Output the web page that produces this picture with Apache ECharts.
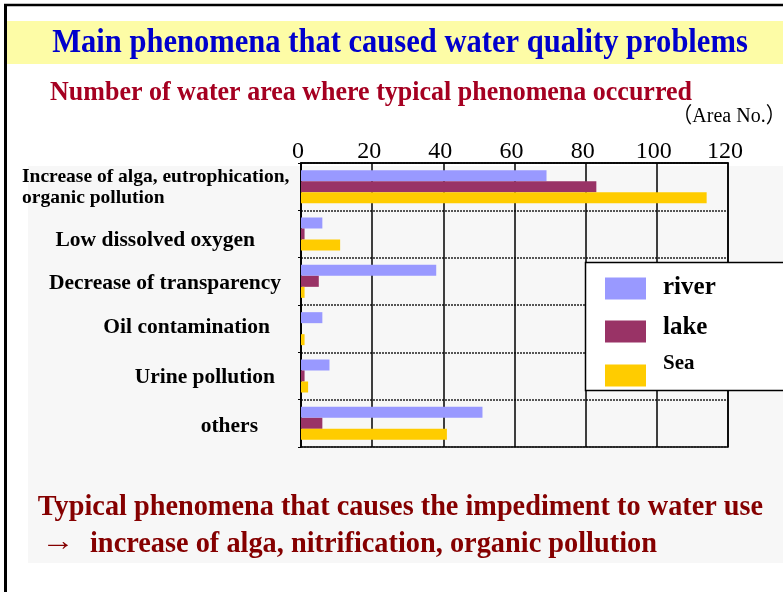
<!DOCTYPE html>
<html>
<head>
<meta charset="utf-8">
<script src="https://cdn.jsdelivr.net/npm/echarts@6/dist/echarts.min.js"></script>
<style>
  html, body { margin: 0; padding: 0; background: #fff; }
  #chart { width: 783px; height: 592px; }
</style>
</head>
<body>
<div id="chart"></div>
<script>
// categories (top to bottom)
var categories = [
  'Increase of alga, eutrophication,\norganic pollution',
  'Low dissolved oxygen',
  'Decrease of transparency',
  'Oil contamination',
  'Urine pollution',
  'others'
];
var seriesNames = ['river', 'lake', 'Sea'];
// number of water areas
var riverData = [69, 6, 38, 6, 8, 51];
var lakeData = [83, 1, 5, 0, 1, 6];
var seaData = [114, 11, 1, 1, 2, 41];
// x axis ticks
var xMin = 0, xMax = 120, xStep = 20;

var SERIF = '"Liberation Serif", "Times New Roman", serif';

// per-label style: right gap from axis, vertical nudge
function lbl(size, pad) {
  return { fontFamily: SERIF, fontWeight: 'bold', fontSize: size, color: '#000', padding: pad };
}
var labelRich = {
  c0a: { fontFamily: SERIF, fontWeight: 'bold', fontSize: 19.5, color: '#000', width: 268, align: 'left', lineHeight: 23, padding: [4, 0, 0, 0] },
  c0b: { fontFamily: SERIF, fontWeight: 'bold', fontSize: 19.5, color: '#000', width: 268, align: 'left', lineHeight: 23 },
  c1: lbl(21.5, [12, 35, 0, 0]),
  c2: lbl(21.5, [4, 9, 0, 0]),
  c3: lbl(21.5, [0, 20, 2, 0]),
  c4: lbl(21.5, [2, 15, 0, 0]),
  c5: lbl(21.5, [6, 32, 0, 0])
};

// one legend block per series so each label can sit where the original has it
function legendFor(name, top, size, lift) {
  return {
    orient: 'vertical',
    left: 605, top: top,
    padding: 0,
    itemWidth: 41, itemHeight: 22,
    icon: 'rect',
    selectedMode: false,
    z: 4,
    data: [name],
    formatter: '{t|{name}}',
    textStyle: {
      rich: {
        t: { fontFamily: SERIF, fontWeight: 'bold', fontSize: size, color: '#000', lineHeight: 14, padding: [0, 0, lift * 2, 12] }
      }
    }
  };
}

var chart = echarts.init(document.getElementById('chart'));

var option = {
  backgroundColor: '#fff',
  animation: false,
  graphic: [
    // outer frame
    { type: 'line', z: 10, shape: { x1: 5.5, y1: 4, x2: 5.5, y2: 592 }, style: { stroke: '#000', lineWidth: 3 } },
    { type: 'line', z: 10, shape: { x1: 4, y1: 5, x2: 783, y2: 5 }, style: { stroke: '#000', lineWidth: 2.5 } },
    // title band
    { type: 'rect', z: -1, shape: { x: 7, y: 21, width: 776, height: 43 }, style: { fill: '#fdfca6' } },
    // gray panel
    { type: 'rect', z: -1, shape: { x: 28, y: 166, width: 755, height: 397 }, style: { fill: '#f7f7f7' } },
    // legend box
    { type: 'rect', z: 3, shape: { x: 585.5, y: 262.5, width: 210, height: 128 }, style: { fill: '#fff', stroke: '#000', lineWidth: 1.5 } },
    {
      type: 'text', x: 400, y: 43, scaleX: 0.955, scaleY: 1.07,
      style: { text: 'Main phenomena that caused water quality problems', fontFamily: SERIF, fontWeight: 'bold', fontSize: 32, fill: '#0000cc', align: 'center', verticalAlign: 'middle' }
    },
    {
      type: 'text', x: 371, y: 93, scaleX: 1.0, scaleY: 1.08,
      style: { text: 'Number of water area where typical phenomena occurred', fontFamily: SERIF, fontWeight: 'bold', fontSize: 26, fill: '#a50021', align: 'center', verticalAlign: 'middle' }
    },
    {
      type: 'text', x: 729, y: 116, scaleY: 1.08,
      style: { text: '（Area No.）', fontFamily: SERIF + ', "Noto Sans CJK JP"', fontSize: 20, fill: '#000', align: 'center', verticalAlign: 'middle' }
    },
    {
      type: 'text', x: 400.5, y: 507, scaleX: 1.01, scaleY: 1.06,
      style: { text: 'Typical phenomena that causes the impediment to water use', fontFamily: SERIF, fontWeight: 'bold', fontSize: 28, fill: '#850000', align: 'center', verticalAlign: 'middle' }
    },
    {
      type: 'text', x: 41, y: 543, scaleX: 1.2,
      style: { text: '→', fontFamily: SERIF, fontSize: 28, fill: '#850000', align: 'left', verticalAlign: 'middle' }
    },
    {
      type: 'text', x: 90, y: 544, scaleX: 1.012, scaleY: 1.06,
      style: { text: 'increase of alga, nitrification, organic pollution', fontFamily: SERIF, fontWeight: 'bold', fontSize: 28, fill: '#850000', align: 'left', verticalAlign: 'middle' }
    }
  ],
  grid: {
    left: 301, top: 163, width: 427, height: 284,
    show: true, borderColor: '#000', borderWidth: 1.5, backgroundColor: 'transparent'
  },
  legend: [
    legendFor('river', 275, 25, 1),
    legendFor('lake', 315, 25, 4),
    legendFor('Sea', 353, 21, 12)
  ],
  xAxis: {
    type: 'value',
    position: 'top',
    min: xMin, max: xMax, interval: xStep,
    axisLine: { show: true, lineStyle: { color: '#000', width: 1.5 } },
    axisTick: { show: false },
    axisLabel: { fontFamily: SERIF, fontSize: 24, color: '#000', margin: -1, padding: [0, 6, 0, 0] },
    splitLine: { show: true, lineStyle: { color: '#000', width: 1.5 } }
  },
  yAxis: {
    type: 'category',
    inverse: true,
    data: categories,
    axisLine: { show: true, lineStyle: { color: '#000', width: 1.5 } },
    axisTick: { show: true, length: 3, lineStyle: { color: '#000' } },
    splitLine: { show: true, lineStyle: { color: '#222', width: 1.5, type: [2, 1] } },
    axisLabel: {
      margin: 11,
      interval: 0,
      rich: labelRich,
      formatter: function (value, idx) {
        if (idx === 0) {
          var parts = value.split('\n');
          return '{c0a|' + parts[0] + '}\n{c0b|' + parts[1] + '}';
        }
        return '{c' + idx + '|' + value + '}';
      }
    }
  },
  series: [
    { name: seriesNames[0], type: 'bar', data: riverData, barWidth: 11, barGap: '0%', itemStyle: { color: '#9999ff' } },
    { name: seriesNames[1], type: 'bar', data: lakeData, barWidth: 11, barGap: '0%', itemStyle: { color: '#993366' } },
    { name: seriesNames[2], type: 'bar', data: seaData, barWidth: 11, barGap: '0%', itemStyle: { color: '#ffcc00' } }
  ]
};

chart.setOption(option);
</script>
</body>
</html>
